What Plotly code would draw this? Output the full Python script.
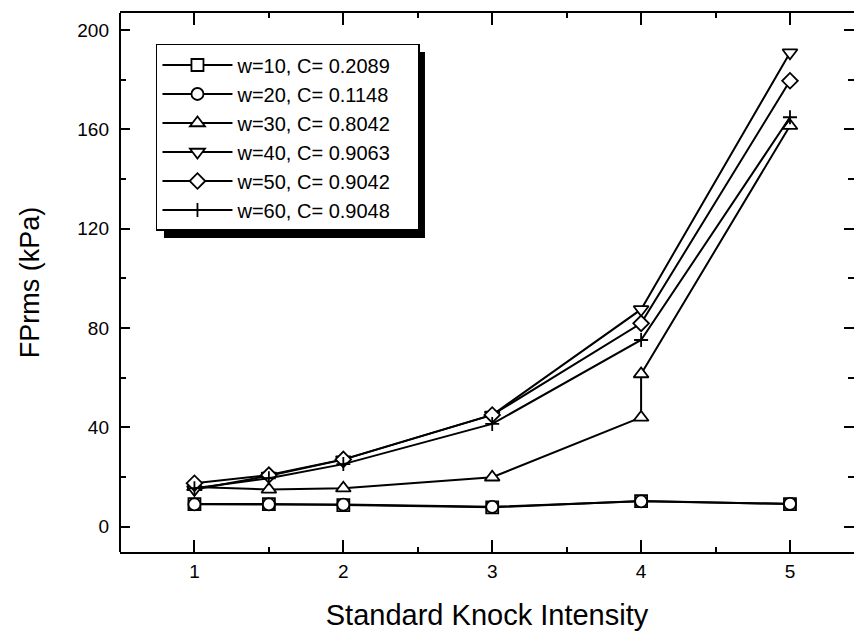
import plotly.graph_objects as go

# ---- data ----
x_std = [1, 1.5, 2, 3, 4, 5]
x_w30 = [1, 1.5, 2, 3, 4, 4, 5]

w10 = [9.1, 9.1, 8.7, 7.8, 10.3, 9.1]
w20 = [9.0, 9.0, 8.9, 8.0, 10.2, 9.2]
w30 = [16.0, 15.0, 15.5, 19.9, 44.0, 61.5, 161.5]
w40 = [15.0, 20.5, 27.0, 45.0, 87.5, 190.9]
w50 = [17.5, 20.8, 27.1, 45.0, 81.9, 179.6]
w60 = [15.5, 19.5, 25.2, 41.4, 75.2, 164.9]

names = ["w=10, C= 0.2089", "w=20, C= 0.1148", "w=30, C= 0.8042",
         "w=40, C= 0.9063", "w=50, C= 0.9042", "w=60, C= 0.9048"]
symbols = ["square", "circle", "triangle-up", "triangle-down", "diamond", "cross-thin"]
sizes = [12, 12, 13, 13, 12, 10]
xs = [x_std, x_std, x_w30, x_std, x_std, x_std]
ys = [w10, w20, w30, w40, w50, w60]

x_ticks = [1, 2, 3, 4, 5]
y_ticks = [0, 40, 80, 120, 160, 200]

FONT = "Liberation Sans, Arial, Helvetica, sans-serif"
PAD = "\u00a0\u00a0\u00a0\u00a0"

fig = go.Figure()
for i in range(6):
    fig.add_trace(go.Scatter(
        x=xs[i], y=ys[i], mode="lines+markers", name=names[i] + PAD,
        line=dict(color="black", width=2),
        marker=dict(symbol=symbols[i], size=sizes[i], color="white",
                    line=dict(color="black", width=1.8)),
    ))

# legend drop shadow
fig.add_shape(type="rect", xref="paper", yref="paper",
              x0=0.0599, x1=0.4155, y0=0.5826, y1=0.9276,
              fillcolor="black", line=dict(width=0), layer="below")
# left frame line
fig.add_shape(type="line", xref="paper", yref="paper", x0=0, x1=0, y0=0, y1=1,
              line=dict(color="black", width=2))

fig.update_layout(
    width=854, height=631,
    margin=dict(l=120, r=0, t=13, b=79),
    paper_bgcolor="white", plot_bgcolor="white",
    font=dict(family=FONT, color="black", size=19),
    showlegend=True,
    legend=dict(x=0.049, y=0.9425, xanchor="left", yanchor="top",
                bgcolor="white", bordercolor="black", borderwidth=1.5,
                font=dict(family=FONT, size=20, color="black"),
                itemwidth=70),
    xaxis=dict(range=[0.5, 5.43], tickvals=x_ticks, ticktext=[str(v) for v in x_ticks],
               ticks="inside", ticklen=12, tickwidth=1.8, tickcolor="black",
               showline=True, linecolor="black", linewidth=2, mirror="ticks",
               showgrid=False, zeroline=False, ticklabelstandoff=1,
               minor=dict(dtick=0.5, tick0=0, ticks="inside", ticklen=5, tickwidth=1.5,
                          tickcolor="black", showgrid=False),
               title=dict(text="Standard Knock Intensity", font=dict(size=29), standoff=25)),
    yaxis=dict(range=[-10.2, 206.9], tickvals=y_ticks, ticktext=[str(v) for v in y_ticks],
               ticks="inside", ticklen=10, tickwidth=1.8, tickcolor="black",
               showline=False, mirror="ticks",
               showgrid=False, zeroline=False, ticklabelstandoff=10,
               minor=dict(dtick=20, tick0=0, ticks="inside", ticklen=6, tickwidth=1.5,
                          tickcolor="black", showgrid=False),
               title=dict(text="FPrms (kPa)", font=dict(size=27), standoff=29)),
)

fig.write_html("out.html")
